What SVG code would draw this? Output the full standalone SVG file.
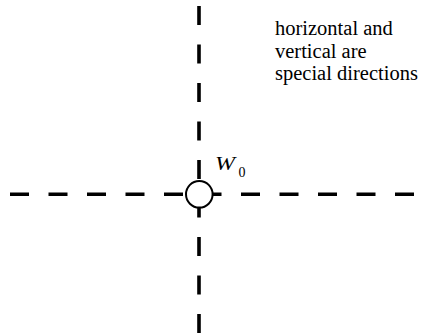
<svg xmlns="http://www.w3.org/2000/svg" width="422" height="334" viewBox="0 0 422 334">
  <style>
    .axis { stroke: #000; stroke-width: 3.6; stroke-dasharray: 19 19.5; stroke-linecap: butt; fill: none; }
    .node { fill: #fff; stroke: #000; stroke-width: 2; }
    .txt { font-family: "Times New Roman", "Liberation Serif", Times, serif; fill: #000; }
  </style>
  <g id="connectors">
    <line class="axis" x1="199" y1="6" x2="199" y2="334"/>
    <line class="axis" x1="10" y1="194.3" x2="422" y2="194.3"/>
  </g>
  <g id="node-w0">
    <circle class="node" cx="199.3" cy="194.3" r="13.3"/>
    <text class="txt" x="215" y="170" font-size="18"><tspan font-style="italic" textLength="20" lengthAdjust="spacingAndGlyphs">W</tspan><tspan x="238.5" y="176.5" font-size="14">0</tspan></text>
  </g>
  <g id="note">
    <text class="txt" font-size="20.5">
      <tspan x="275" y="35">horizontal and</tspan>
      <tspan x="275" y="57.5">vertical are</tspan>
      <tspan x="275" y="80">special directions</tspan>
    </text>
  </g>
</svg>
